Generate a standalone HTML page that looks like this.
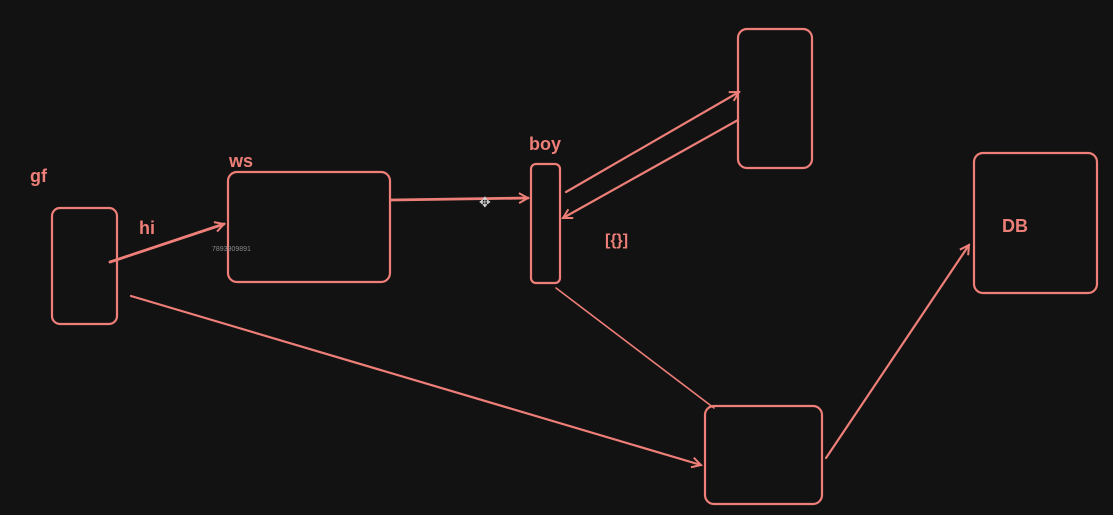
<!DOCTYPE html>
<html><head><meta charset="utf-8"><style>
html,body{margin:0;padding:0;background:#121212;width:1113px;height:515px;overflow:hidden}
svg{display:block}
text{font-family:"Liberation Sans",sans-serif;fill:#ee7f78}
</style></head><body>
<svg width="1113" height="515" viewBox="0 0 1113 515">
<defs><marker id="a" markerWidth="12" markerHeight="12" refX="10" refY="6" orient="auto" markerUnits="userSpaceOnUse"><path d="M1,1 L10,6 L1,11" fill="none" stroke="#ee7f78" stroke-width="2"/></marker></defs>
<g fill="none" stroke="#ee7f78" stroke-width="2.2" stroke-linecap="round">
<rect x="52" y="208" width="65" height="116" rx="8"/>
<rect x="228" y="172" width="162" height="110" rx="9"/>
<rect x="531" y="164" width="29" height="119" rx="5"/>
<rect x="738" y="29" width="74" height="139" rx="9"/>
<rect x="974" y="153" width="123" height="140" rx="9"/>
<rect x="705" y="406" width="117" height="98" rx="9"/>
<line x1="110" y1="262" x2="224" y2="224" marker-end="url(#a)" stroke-width="2.8"/>
<line x1="391" y1="200" x2="528" y2="198" marker-end="url(#a)" stroke-width="2.8"/>
<line x1="566" y1="192" x2="739" y2="92" marker-end="url(#a)"/>
<line x1="738" y1="120" x2="563" y2="218" marker-end="url(#a)"/>
<line x1="131" y1="296" x2="701" y2="465" marker-end="url(#a)"/>
<line x1="556" y1="288" x2="714" y2="408" stroke-width="1.6"/>
<line x1="826" y1="458" x2="969" y2="245" marker-end="url(#a)"/>
</g>
<g font-weight="bold">
<text x="30" y="182" font-size="18">gf</text>
<text x="229" y="167" font-size="18">ws</text>
<text x="139" y="234" font-size="18">hi</text>
<text x="529" y="150" font-size="18">boy</text>
<text x="605" y="245" font-size="16">[{}]</text>
<text x="1002" y="232" font-size="18">DB</text>
</g>
<text x="212" y="251" font-size="7" style="fill:#888">7893909891</text>
<text x="479" y="207" font-size="14" style="fill:#ccc">✥</text>
</svg>
</body></html>
